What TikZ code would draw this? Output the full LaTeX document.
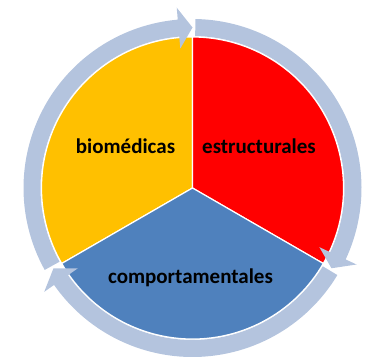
\documentclass[tikz,border=0pt]{standalone}
\usepackage{fontspec}
\setmainfont{Carlito}
\definecolor{ringblue}{RGB}{180,196,222}
\definecolor{pieyellow}{RGB}{255,192,0}
\definecolor{piered}{RGB}{255,0,0}
\definecolor{pieblue}{RGB}{79,129,189}
\tikzset{
  sector/.style={fill=#1, draw=white, line width=1.2pt},
  label/.style={font=\bfseries\fontsize{21}{25}\selectfont, text=black, inner sep=0pt}
}
\begin{document}
\begin{tikzpicture}[x=1pt,y=1pt]
\useasboundingbox (0,0) rectangle (371,356);
\begin{scope}[shift={(192.5,168)}]
\filldraw[sector=pieyellow] (0,0) -- (90:151) arc[start angle=90, end angle=210, radius=151] -- cycle;
\filldraw[sector=piered] (0,0) -- (-30:151) arc[start angle=-30, end angle=90, radius=151] -- cycle;
\filldraw[sector=pieblue] (0,0) -- (210:151) arc[start angle=210, end angle=330, radius=151] -- cycle;
\foreach \a in {90,210,330} {
  \fill[ringblue] (\a+120-1:169) arc[start angle=\a+120-1, end angle=\a+5, radius=169] -- (\a+5:181) -- (\a:160.5) -- (\a+5:140) -- (\a+5:152) arc[start angle=\a+5, end angle=\a+120-1, radius=152] -- cycle;
}
\node[label] (bio) at (-67,42) {biomédicas};
\node[label] (est) at (66.5,42) {estructurales};
\node[label] (comp) at (-2,-90) {comportamentales};
\end{scope}
\end{tikzpicture}
\end{document}
